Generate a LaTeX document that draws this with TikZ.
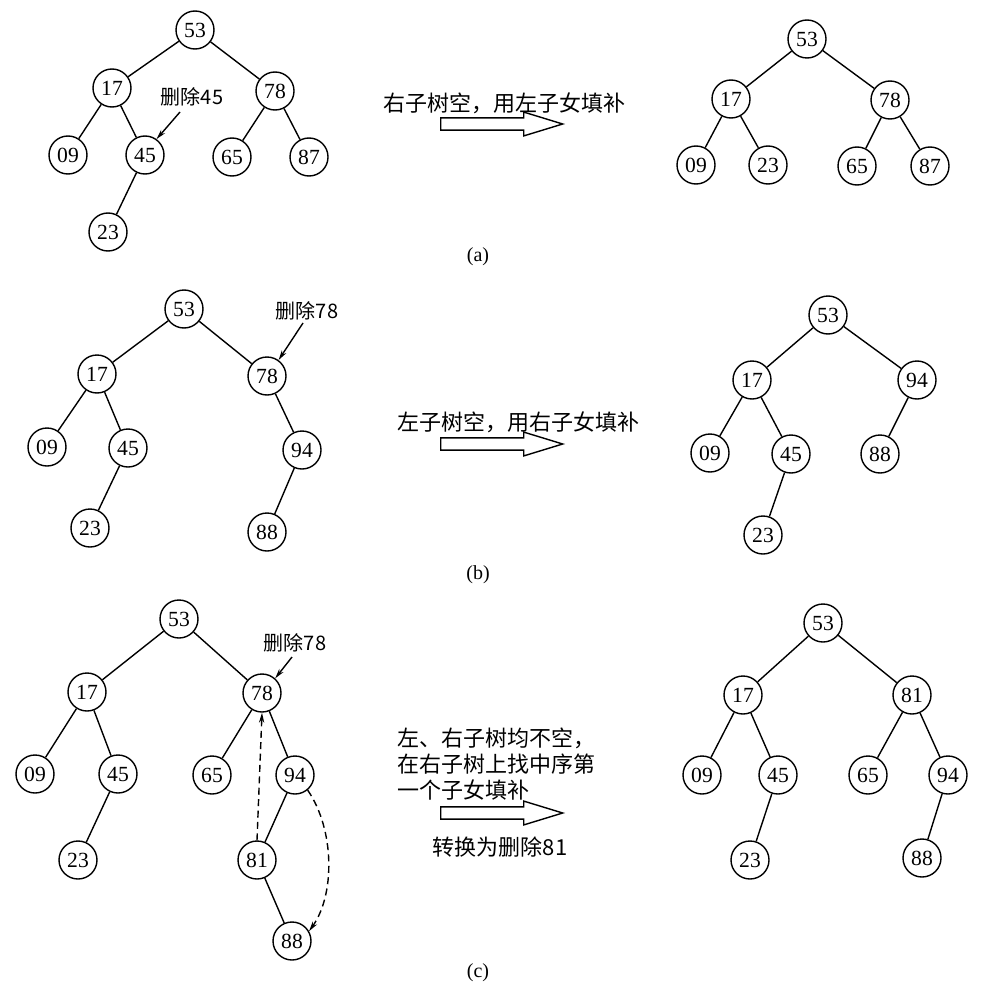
\documentclass[tikz,border=0pt]{standalone}
\usepackage{fontspec}
\setmainfont{Liberation Serif}
\newfontfamily\cjk{Noto Sans CJK SC}
\usetikzlibrary{arrows.meta,shapes.arrows}

\begin{document}
\begin{tikzpicture}[x=0.5pt,y=-0.5pt,line width=.7pt,
        bst/.style={circle,draw,minimum size=19pt,inner sep=0pt,font=\fontsize{10.8}{12}\selectfont},
        hint/.style={font=\cjk\fontsize{10}{12}\selectfont,inner sep=0pt},
        rule/.style={font=\cjk\fontsize{11}{12.8}\selectfont,inner sep=0pt,anchor=west,align=left},
        hollow/.style={single arrow,draw,inner xsep=0pt,inner ysep=2.7pt,single arrow head extend=2.9pt,
            single arrow tip angle=34,minimum height=61pt,anchor=tail},
        ptr/.style={-{Stealth[length=5pt,width=2.6pt]}},
        dashptr/.style={ptr,dash pattern=on 3.5pt off 2.2pt},
        subcap/.style={font=\fontsize{10}{12}\selectfont}]
                \useasboundingbox (0,0) rectangle (989,990);

                % (a) left tree
                \node[bst] (al53) at (195,30) {53};
                \node[bst] (al17) at (112,88) {17};
                \node[bst] (al78) at (275,91) {78};
                \node[bst] (al09) at (68,155) {09};
                \node[bst] (al45) at (145,155) {45};
                \node[bst] (al65) at (232,157) {65};
                \node[bst] (al87) at (309,157) {87};
                \node[bst] (al23) at (108,232) {23};
                \draw (al53) -- (al17);
                \draw (al53) -- (al78);
                \draw (al17) -- (al09);
                \draw (al17) -- (al45);
                \draw (al45) -- (al23);
                \draw (al78) -- (al65);
                \draw (al78) -- (al87);
                \node[hint] (alab) at (192,97) {删除45};
                \coordinate (apt) at (180,112);
                \draw[ptr] (apt) -- (al45.54);

                \node[rule] (arule) at (383,103) {右子树空，用左子女填补};
                \node[hollow] (aarr) at (440,124) {};

                % (a) right tree
                \node[bst] (ar53) at (807,39) {53};
                \node[bst] (ar17) at (731,99) {17};
                \node[bst] (ar78) at (890,100) {78};
                \node[bst] (ar09) at (696,165) {09};
                \node[bst] (ar23) at (768,165) {23};
                \node[bst] (ar65) at (857,166) {65};
                \node[bst] (ar87) at (930,166) {87};
                \draw (ar53) -- (ar17);
                \draw (ar53) -- (ar78);
                \draw (ar17) -- (ar09);
                \draw (ar17) -- (ar23);
                \draw (ar78) -- (ar65);
                \draw (ar78) -- (ar87);

                \node[subcap] (capa) at (478,257) {(a)};

                % (b) left tree
                \node[bst] (bl53) at (184,309) {53};
                \node[bst] (bl17) at (97,374) {17};
                \node[bst] (bl78) at (267,376) {78};
                \node[bst] (bl09) at (47,447) {09};
                \node[bst] (bl45) at (128,448) {45};
                \node[bst] (bl94) at (302,450) {94};
                \node[bst] (bl23) at (90,528) {23};
                \node[bst] (bl88) at (267,532) {88};
                \draw (bl53) -- (bl17);
                \draw (bl53) -- (bl78);
                \draw (bl17) -- (bl09);
                \draw (bl17) -- (bl45);
                \draw (bl45) -- (bl23);
                \draw (bl78) -- (bl94);
                \draw (bl94) -- (bl88);
                \node[hint] (blab) at (307,311) {删除78};
                \coordinate (bpt) at (303,323);
                \draw[ptr] (bpt) -- (bl78.54);

                \node[rule] (brule) at (397,422) {左子树空，用右子女填补};
                \node[hollow] (barr) at (440,444) {};

                % (b) right tree
                \node[bst] (br53) at (828,315) {53};
                \node[bst] (br17) at (752,380) {17};
                \node[bst] (br94) at (917,380) {94};
                \node[bst] (br09) at (710,453) {09};
                \node[bst] (br45) at (791,454) {45};
                \node[bst] (br88) at (880,454) {88};
                \node[bst] (br23) at (763,535) {23};
                \draw (br53) -- (br17);
                \draw (br53) -- (br94);
                \draw (br17) -- (br09);
                \draw (br17) -- (br45);
                \draw (br45) -- (br23);
                \draw (br94) -- (br88);

                \node[subcap] (capb) at (478,575) {(b)};

                % (c) left tree
                \node[bst] (cl53) at (179,619) {53};
                \node[bst] (cl17) at (87,692) {17};
                \node[bst] (cl78) at (262,693) {78};
                \node[bst] (cl09) at (35,774) {09};
                \node[bst] (cl45) at (118,774) {45};
                \node[bst] (cl65) at (212,775) {65};
                \node[bst] (cl94) at (295,775) {94};
                \node[bst] (cl23) at (78,860) {23};
                \node[bst] (cl81) at (257,860) {81};
                \node[bst] (cl88) at (292,941) {88};
                \draw (cl53) -- (cl17);
                \draw (cl53) -- (cl78);
                \draw (cl17) -- (cl09);
                \draw (cl17) -- (cl45);
                \draw (cl45) -- (cl23);
                \draw (cl78) -- (cl65);
                \draw (cl78) -- (cl94);
                \draw (cl94) -- (cl81);
                \draw (cl81) -- (cl88);
                \node[hint] (clab) at (295,643) {删除78};
                \coordinate (cpt) at (292,657);
                \draw[ptr] (cpt) -- (cl78.48);
                \draw[dashptr] (cl81.north) -- (cl78.south);
                \draw[dashptr] (cl94.-50) .. controls (335,830) and (335,895) .. (cl88.30);

                \node[rule] (crule) at (397,764) {左、右子树均不空，\\在右子树上找中序第\\一个子女填补};
                \node[hollow] (carr) at (440,813) {};
                \node[font=\cjk\fontsize{11}{12}\selectfont] (cnote) at (500,847) {转换为删除81};

                % (c) right tree
                \node[bst] (cr53) at (823,623) {53};
                \node[bst] (cr17) at (743,695) {17};
                \node[bst] (cr81) at (912,695) {81};
                \node[bst] (cr09) at (702,775) {09};
                \node[bst] (cr45) at (778,775) {45};
                \node[bst] (cr65) at (868,775) {65};
                \node[bst] (cr94) at (948,775) {94};
                \node[bst] (cr23) at (750,860) {23};
                \node[bst] (cr88) at (922,858) {88};
                \draw (cr53) -- (cr17);
                \draw (cr53) -- (cr81);
                \draw (cr17) -- (cr09);
                \draw (cr17) -- (cr45);
                \draw (cr45) -- (cr23);
                \draw (cr81) -- (cr65);
                \draw (cr81) -- (cr94);
                \draw (cr94) -- (cr88);

                \node[subcap] (capc) at (478,973) {(c)};
\end{tikzpicture}
\end{document}
